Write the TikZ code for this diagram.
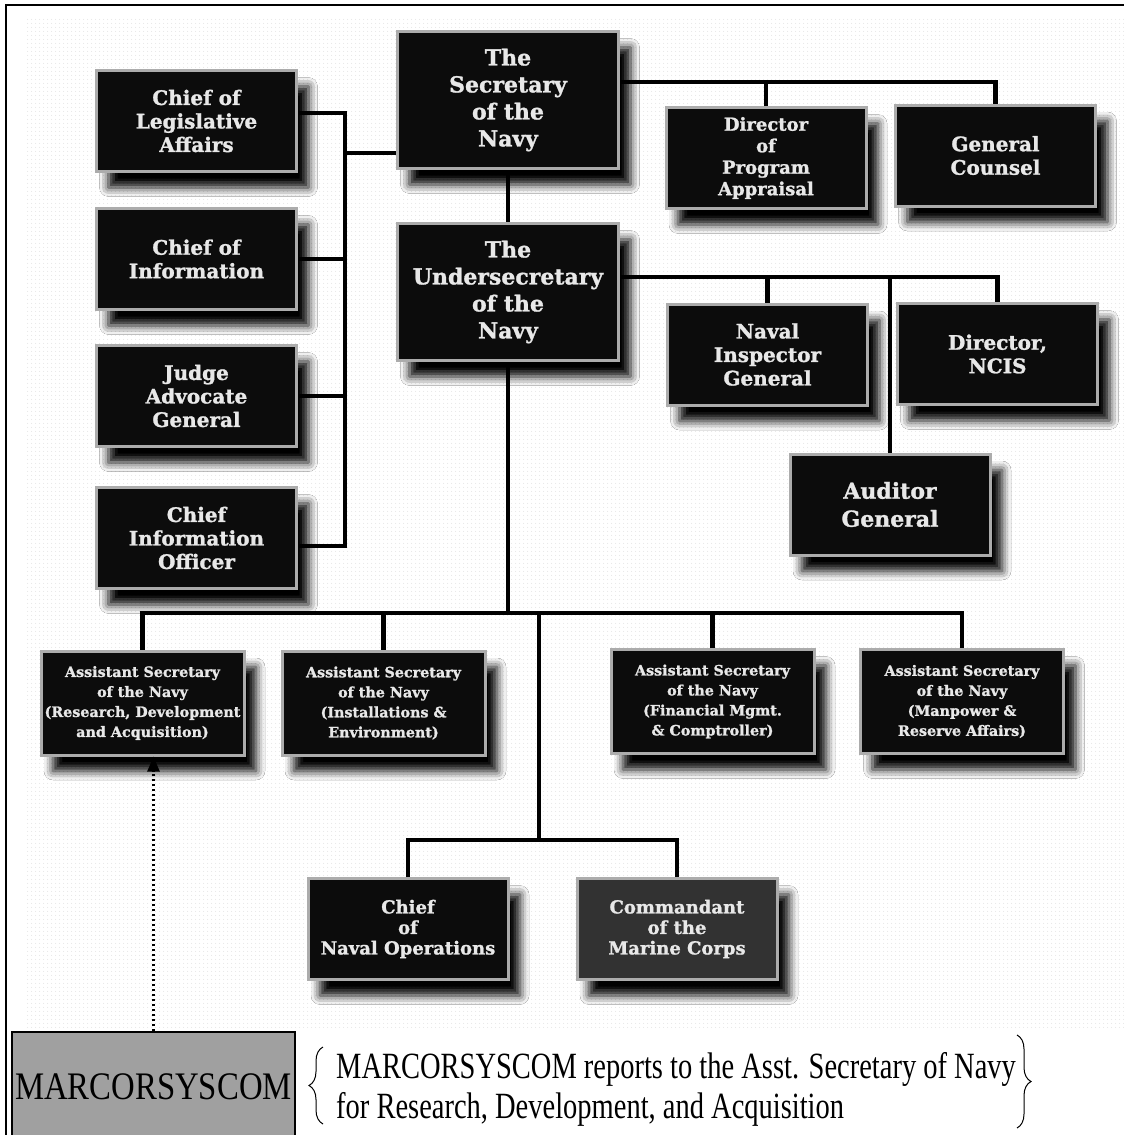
\documentclass[tikz,border=0pt]{standalone}
\usepackage{fontspec}
\newfontfamily\orgfont[BoldFeatures={FakeBold=1.3}]{DejaVu Serif}
\newfontfamily\notefont[FakeStretch=0.77]{Liberation Serif}
\newfontfamily\mcsfont[FakeStretch=0.84]{Liberation Serif}
\usetikzlibrary{arrows.meta,positioning,shadows.blur,
                decorations.pathreplacing,patterns.meta}
\definecolor{navyblack}{RGB}{12,12,12}
\definecolor{navygray} {RGB}{50,50,50}
\definecolor{bevel}    {RGB}{172,172,172}
\definecolor{boxtext}  {RGB}{232,232,232}
\definecolor{mcsgray}  {RGB}{160,160,160}
\tikzset{
  org/.style={rectangle,fill=#1,draw=bevel,line width=3pt,text=boxtext,
              minimum width=200pt,minimum height=101pt,align=center,inner sep=2pt,
              font=\orgfont\bfseries\fontsize{20}{23.5}\selectfont,
              blur shadow={shadow xshift=12pt,shadow yshift=-16pt,
                           shadow opacity=100,shadow blur radius=9pt}},
  org/.default=navyblack,
  orgline/.style={line width=4.5pt,draw=black},
}

\begin{document}
\begin{tikzpicture}[x=1pt,y=-1pt,
  headbox/.style={org,minimum width=221pt,minimum height=137pt,
                  font=\orgfont\bfseries\fontsize{22}{27}\selectfont},
  asnbox/.style={org,minimum width=203pt,minimum height=104pt,
                 font=\orgfont\bfseries\fontsize{14.3}{20}\selectfont},
  mcsbox/.style={rectangle,fill=mcsgray,draw=black,line width=1.2pt,
                 minimum width=283pt,minimum height=110pt,inner sep=0pt,
                 font=\mcsfont\fontsize{39}{40}\selectfont},
  memo/.style={inner sep=0pt,font=\notefont\fontsize{37}{40}\selectfont},
  bracket/.style={decorate,decoration={brace,amplitude=14pt},line width=1pt}
]
  \useasboundingbox (0,0) rectangle (1124,1135);
  \fill[white] (0,0) rectangle (1124,1135);
  \fill[pattern={Dots[distance=4pt,radius=0.5pt]},pattern color=gray!30]
    (25,18) rectangle (1124,1028);
  \draw[line width=2pt] (6,1135) -- (6,5) -- (1124,5);

  % Secretary and Undersecretary
  \node[headbox] (sec)   at (508,100) {The\\Secretary\\of the\\Navy};
  \node[headbox] (under) at (508,292) {The\\Undersecretary\\of the\\Navy};

  % left staff column
  \node[org] (leg)  at (196.5,121) {Chief of\\Legislative\\Affairs};
  \node[org] (info) at (196.5,259) {Chief of\\Information};
  \node[org] (jag)  at (196.5,396) {Judge\\Advocate\\General};
  \node[org] (cio)  at (196.5,538) {Chief\\Information\\Officer};

  % staff under the Secretary
  \node[org,font=\orgfont\bfseries\fontsize{18}{21.5}\selectfont] (dpa) at (766,158)
    {Director\\of\\Program\\Appraisal};
  \node[org] (gc) at (995.5,155.5) {General\\Counsel};

  % staff under the Undersecretary
  \node[org]  (nig)  at (767.5,354.5) {Naval\\Inspector\\General};
  \node[org]  (ncis) at (997.5,354)   {Director,\\NCIS};
  \node[org,font=\orgfont\bfseries\fontsize{22}{28}\selectfont] (aud) at (890,504.5)
    {Auditor\\General};

  % Assistant Secretaries
  \node[asnbox] (rda) at (142.5,703)
    {Assistant Secretary\\of the Navy\\(Research, Development\\and Acquisition)};
  \node[asnbox] (ie)  at (383.5,703)
    {Assistant Secretary\\of the Navy\\(Installations \&\\Environment)};
  \node[asnbox] (fmc) at (712.5,701.5)
    {Assistant Secretary\\of the Navy\\(Financial Mgmt.\\\& Comptroller)};
  \node[asnbox] (mra) at (962,701.5)
    {Assistant Secretary\\of the Navy\\(Manpower \&\\Reserve Affairs)};

  % service chiefs
  \node[org,font=\orgfont\bfseries\fontsize{18}{20.5}\selectfont] (cno) at (408,929)
    {Chief\\of\\Naval Operations};
  \node[org=navygray,font=\orgfont\bfseries\fontsize{18}{20.5}\selectfont] (cmc) at (677,929)
    {Commandant\\of the\\Marine Corps};

  % connector rows
  \coordinate (topbus) at (0,82);
  \coordinate (midbus) at (0,277);
  \coordinate (asnbus) at (0,613);
  \coordinate (cnobus) at (0,840);
  \coordinate (secrow) at (0,153);
  \coordinate (lbus)   at (345,0);
  \coordinate (legtap) at ([yshift=8pt]leg.east);
  \coordinate (ciotap) at ([yshift=-8pt]cio.east);
  \coordinate (cnoroot) at (539,613);

  \draw[orgline] (sec.south) -- (under.north);
  \draw[orgline] (sec.east |- topbus) -| (gc.north);
  \draw[orgline] (dpa.north) -- (dpa.north |- topbus);

  \draw[orgline] (legtap) -- (legtap -| lbus) -- (ciotap -| lbus) -- (ciotap);
  \draw[orgline] (info.east) -- (info.east -| lbus);
  \draw[orgline] (jag.east) -- (jag.east -| lbus);
  \draw[orgline] (sec.west |- secrow) -- (lbus |- secrow);

  \draw[orgline] (under.east |- midbus) -| (ncis.north);
  \draw[orgline] (nig.north) -- (nig.north |- midbus);
  \draw[orgline] (aud.north) -- (aud.north |- midbus);

  \draw[orgline] (under.south) -- (under.south |- asnbus);
  \draw[orgline] (rda.north) |- (asnbus -| mra.north) -- (mra.north);
  \foreach \asn in {ie,fmc}
    \draw[orgline] (\asn.north) -- (\asn.north |- asnbus);

  \draw[orgline] (cnoroot) -- (cnoroot |- cnobus);
  \draw[orgline] (cno.north) |- (cnobus -| cmc.north) -- (cmc.north);

  % MARCORSYSCOM and its note
  \node[mcsbox] (mcs) at (153.5,1087) {MARCORSYSCOM};
  \draw[line width=2.5pt,dash pattern=on 2.5pt off 2.5pt,-{Triangle[length=15pt,width=12pt]}]
    (mcs.north) -- (mcs.north |- rda.south);

  \node[memo,anchor=base west] (memo1) at (336,1078)
    {MARCORSYSCOM reports to the Asst. Secretary of Navy};
  \node[memo,anchor=base west] (memo2) at (336,1118)
    {for Research, Development, and Acquisition};
  \draw[bracket] ([xshift=-13pt,yshift=-6pt]memo2.base west)
              -- ([xshift=-13pt,yshift=31pt]memo1.base west);
  \draw[bracket] ([xshift=681pt,yshift=43pt]memo1.base west)
              -- ([xshift=681pt,yshift=-10pt]memo2.base west);
\end{tikzpicture}
\end{document}
